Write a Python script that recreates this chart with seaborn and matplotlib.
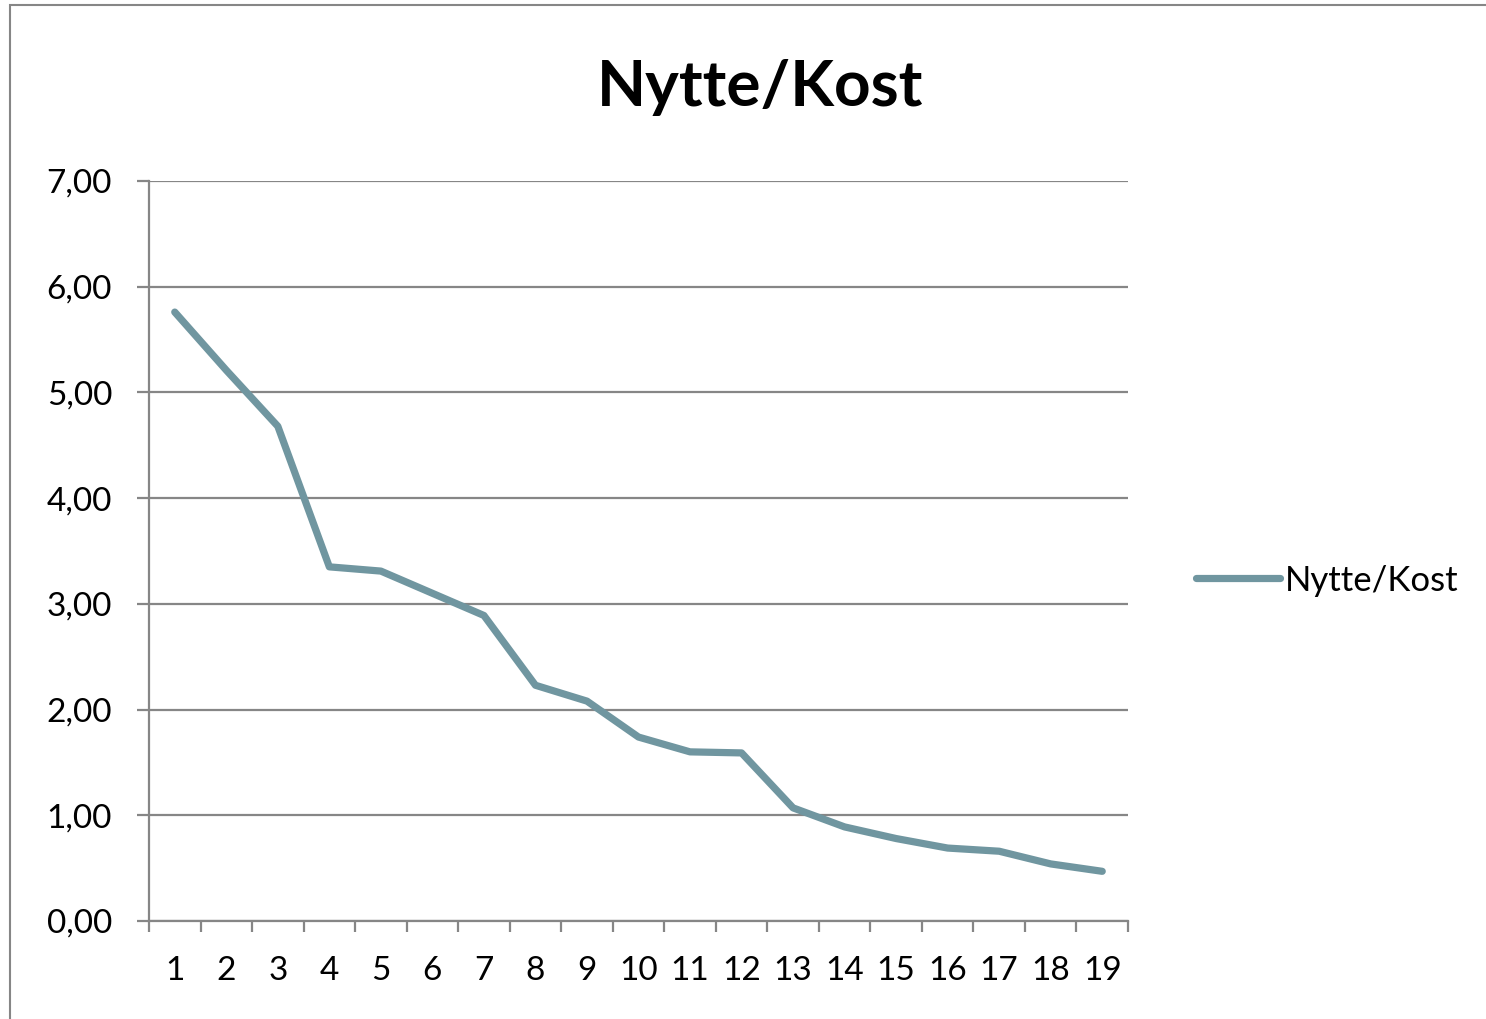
import matplotlib
matplotlib.use("Agg")
import matplotlib.pyplot as plt
import seaborn as sns
import pandas as pd
from matplotlib.patches import Rectangle
from matplotlib.ticker import FixedLocator, NullFormatter, FixedFormatter

categories = list(range(1, 20))
values = [5.76, 5.21, 4.68, 3.35, 3.31, 3.10, 2.89, 2.23, 2.08, 1.74,
          1.60, 1.59, 1.07, 0.89, 0.78, 0.69, 0.66, 0.54, 0.47]
series_name = "Nytte/Kost"
title = "Nytte/Kost"
y_ticks = [0, 1, 2, 3, 4, 5, 6, 7]

sns.set_theme(style="white")
plt.rcParams['font.family'] = ['Lato', 'DejaVu Sans']
plt.rcParams['text.color'] = 'black'
plt.rcParams['xtick.color'] = 'black'
plt.rcParams['ytick.color'] = 'black'

df = pd.DataFrame({"x": categories, "y": values, "serie": series_name})

W, H = 1486, 1019
fig = plt.figure(figsize=(W / 100, H / 100), dpi=100)
ax = fig.add_axes([149 / W, 1 - 921 / H, (1128 - 149) / W, (921 - 181) / H])

grid_col = "#868686"
line_col = "#7096A0"

sns.lineplot(data=df, x="x", y="y", hue="serie", palette=[line_col],
             linewidth=5.2, ax=ax, legend=True)

ax.set_xlim(0.5, 19.5)
ax.set_ylim(0, 7)
ax.set_xlabel("")
ax.set_ylabel("")

# y axis
ax.set_yticks(y_ticks)
ax.set_yticklabels([f"{v:.2f}".replace(".", ",") for v in y_ticks], fontsize=24)
ax.yaxis.grid(True, color=grid_col, linewidth=1.6)
ax.set_axisbelow(True)

# x axis: ticks at category boundaries, labels at centers
ax.xaxis.set_major_locator(FixedLocator([c - 0.5 for c in categories] + [categories[-1] + 0.5]))
ax.xaxis.set_major_formatter(NullFormatter())
ax.xaxis.set_minor_locator(FixedLocator(categories))
ax.xaxis.set_minor_formatter(FixedFormatter([str(c) for c in categories]))
ax.tick_params(axis="x", which="major", length=8, width=1.6, color=grid_col, direction="out", bottom=True)
ax.tick_params(axis="x", which="minor", length=0, pad=25, labelsize=24, bottom=True, labelcolor="black")
ax.tick_params(axis="y", which="major", length=8.6, width=1.6, color=grid_col, direction="out", pad=18, left=True, labelcolor="black")

for side in ["top", "right"]:
    ax.spines[side].set_visible(False)
for side in ["left", "bottom"]:
    ax.spines[side].set_color(grid_col)
    ax.spines[side].set_linewidth(1.6)

# legend
leg = ax.legend(loc="center left", bbox_to_anchor=(1.038, 0.46), frameon=False,
                fontsize=25, handlelength=2.4, handletextpad=0.15)
for h in leg.get_lines():
    h.set_linewidth(5.2)
for t in leg.get_texts():
    t.set_color("black")

# title
fig.text(760 / W, 1 - 87 / H, title, ha="center", va="center",
         fontsize=46, fontweight="bold", color="black")

# outer frame
fig.patches.append(Rectangle((10 / W, -0.01), 1.02, 1 - 5 / H + 0.01,
                             transform=fig.transFigure, fill=False,
                             edgecolor="#868686", linewidth=1.5))

fig.savefig("out.png", dpi=100)
